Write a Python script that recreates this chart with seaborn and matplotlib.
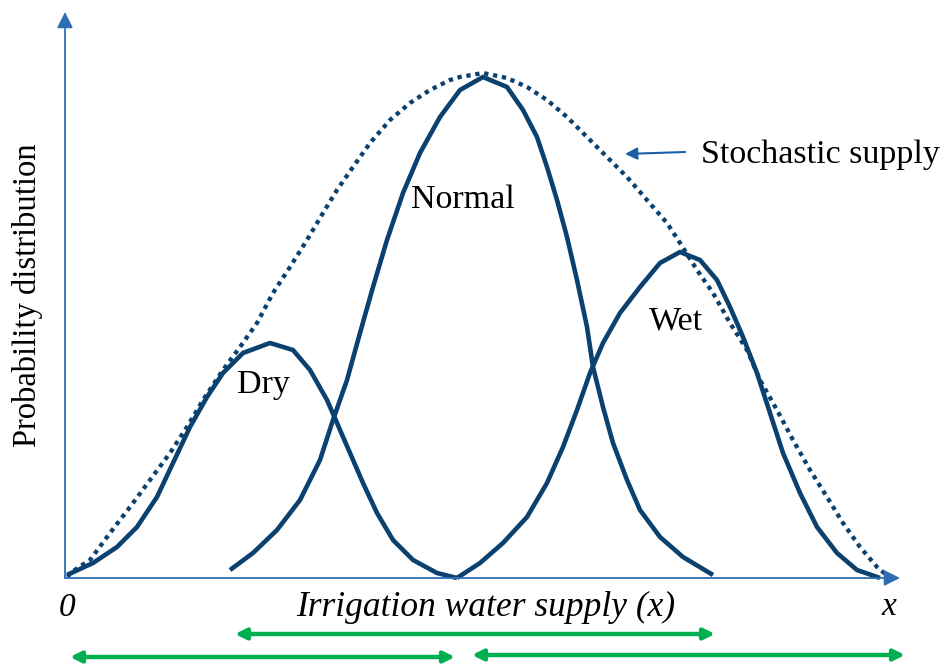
import numpy as np
import pandas as pd
import matplotlib
matplotlib.use("Agg")
import matplotlib.pyplot as plt
import seaborn as sns

# curve points: x = supply, y = probability height (pixel-like units)
dry_x = [2, 28, 52, 72, 92, 108, 125, 142, 158, 178, 205, 228, 245, 262, 272, 285, 298, 312,
         328, 348, 372, 392]
dry_y = [3, 15, 31, 51, 81, 115, 151, 181, 205, 225, 235, 228, 208, 178, 155, 125, 95, 65,
         38, 18, 5, 0]

normal_x = [165, 188, 212, 235, 255, 268, 282, 295, 308, 322, 338, 355, 375, 395, 418, 442,
            458, 472, 482, 492, 502, 512, 522, 528, 538, 548, 562, 575, 595, 618, 648]
normal_y = [8, 25, 48, 78, 118, 158, 198, 245, 291, 338, 385, 425, 461, 488, 501, 491, 468,
            441, 411, 378, 341, 298, 251, 211, 171, 135, 98, 68, 41, 21, 3]

wet_x = [392, 415, 438, 462, 482, 498, 512, 525, 538, 555, 575, 595, 615, 635, 652, 665, 678,
         692, 705, 718, 735, 752, 772, 792, 815]
wet_y = [0, 15, 35, 61, 95, 131, 168, 205, 235, 265, 291, 315, 326, 318, 298, 271, 241, 205,
         165, 125, 85, 51, 25, 8, 0]

stoch_x = [3, 5, 25, 45, 65, 85, 105, 122, 138, 158, 175, 192, 208, 225, 242, 258, 272, 288,
           305, 325, 345, 365, 385, 395, 418, 442, 462, 482, 502, 522, 542, 562, 582, 602,
           615, 632, 648, 665, 682, 695, 712, 728, 745, 762, 778, 795, 812, 825]
stoch_y = [1, 5, 18, 45, 71, 98, 125, 151, 178, 208, 231, 255, 285, 311, 338, 365, 388, 411,
           435, 458, 475, 488, 498, 501, 505, 500, 491, 478, 461, 441, 421, 401, 378, 355,
           335, 308, 285, 255, 228, 198, 168, 138, 108, 81, 55, 31, 11, 0]

# supply ranges of the three seasons (green arrows)
normal_range = [170, 650]
dry_range = [5, 390]
wet_range = [407, 840]

navy = "#0b416f"
axis_blue = "#2e6db3"
green = "#00b050"

sns.set_style("white")
plt.rcParams["font.family"] = ["Liberation Serif", "DejaVu Serif"]
plt.rcParams["text.color"] = "black"

fig = plt.figure(figsize=(9.52, 6.64), dpi=100)
ax = fig.add_axes([0, 0, 1, 1])
ax.set_xlim(-65, 887)
ax.set_ylim(-86, 578)
ax.axis("off")

curves = pd.concat([
    pd.DataFrame({"x": dry_x, "y": dry_y, "season": "Dry"}),
    pd.DataFrame({"x": normal_x, "y": normal_y, "season": "Normal"}),
    pd.DataFrame({"x": wet_x, "y": wet_y, "season": "Wet"}),
])
for season, grp in curves.groupby("season"):
    sns.lineplot(data=grp, x="x", y="y", sort=False, estimator=None, ax=ax,
                 color=navy, linewidth=3.3, solid_capstyle="butt", solid_joinstyle="round")

sns.lineplot(x=stoch_x, y=stoch_y, sort=False, estimator=None, ax=ax, color=navy,
             linewidth=3.1, linestyle=(0, (1, 1.1)), dash_capstyle="butt")

# axes arrows
ax.annotate("", xy=(0, 566), xytext=(0, 0),
            arrowprops=dict(arrowstyle="-|>", color=axis_blue, lw=1.3, mutation_scale=24,
                            shrinkA=0, shrinkB=0))
ax.annotate("", xy=(835, 0), xytext=(0, 0),
            arrowprops=dict(arrowstyle="-|>", color=axis_blue, lw=1.3, mutation_scale=24,
                            shrinkA=0, shrinkB=0))

# pointer to the stochastic curve
ax.annotate("", xy=(560, 424), xytext=(620, 426),
            arrowprops=dict(arrowstyle="-|>", color="#1b5fa8", lw=1.5, mutation_scale=18,
                            shrinkA=0, shrinkB=0))
ax.text(636, 423, "Stochastic supply", fontsize=24.5, va="center", ha="left")

ax.text(398, 378, "Normal", fontsize=24.5, ha="center", va="center")
ax.text(198, 193, "Dry", fontsize=24.5, ha="center", va="center")
ax.text(611, 257, "Wet", fontsize=24.5, ha="center", va="center")
ax.text(-37, 283, "Probability distribution", fontsize=23.5, rotation=90,
        ha="center", va="center")

ax.text(2, -30, "0", fontsize=24, style="italic", ha="center", va="center")
ax.text(421, -29, "Irrigation water supply (x)", fontsize=25.5, style="italic",
        ha="center", va="center")
ax.text(824, -29, "x", fontsize=24, style="italic", ha="center", va="center")

# season ranges
for rng, yy in [(normal_range, -56), (dry_range, -79), (wet_range, -77)]:
    ax.annotate("", xy=(rng[1], yy), xytext=(rng[0], yy),
                arrowprops=dict(arrowstyle="<|-|>", color=green, lw=3.2, mutation_scale=16,
                                shrinkA=0, shrinkB=0))

fig.savefig("out.png", dpi=100, facecolor="white")
